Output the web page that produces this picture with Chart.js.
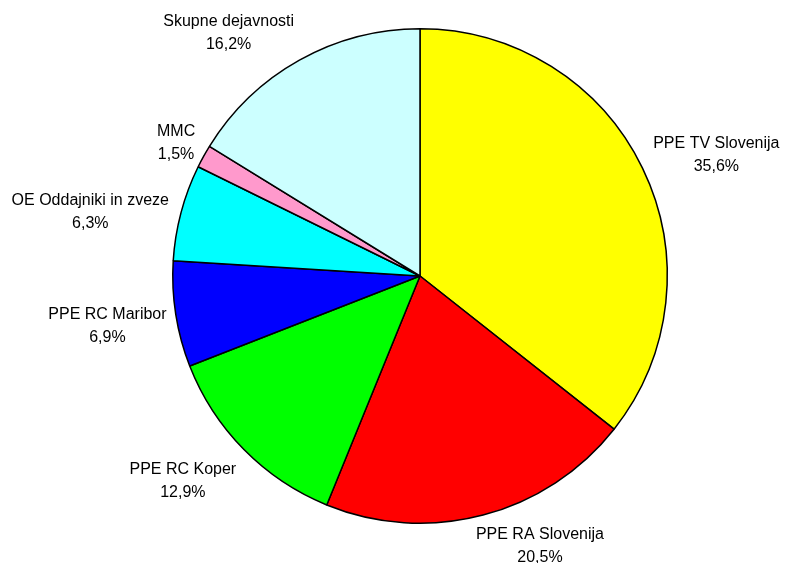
<!DOCTYPE html>
<html>
<head>
<meta charset="utf-8">
<script src="https://cdn.jsdelivr.net/npm/chart.js@4"></script>
<style>
  html, body { margin: 0; padding: 0; background: #fff; }
  #wrap { width: 785px; height: 563px; }
</style>
</head>
<body>
<div id="wrap"><canvas id="chart1" width="785" height="563"></canvas></div>
<script>
var categories = ["PPE TV Slovenija", "PPE RA Slovenija", "PPE RC Koper", "PPE RC Maribor",
                  "OE Oddajniki in zveze", "MMC", "Skupne dejavnosti"]
var shares = [35.6, 20.5, 12.9, 6.9, 6.3, 1.5, 16.2]
var colours = ["#ffff00", "#ff0000", "#00ff00", "#0000ff", "#00ffff", "#ff99cc", "#ccffff"]

// small hand nudges so labels sit where the original put them
var nudge = [[8, 0], [38, 0], [-16, 9], [0, 6], [-5, 7], [-2, 2], [-34, 0]]

var outsideLabels = {
    id: 'outsideLabels',
    afterDatasetsDraw: function (chart) {
        var ctx = chart.ctx
        var meta = chart.getDatasetMeta(0)
        ctx.save()
        ctx.font = '16px "Liberation Sans", Arial, sans-serif'
        ctx.fillStyle = '#000'
        ctx.textAlign = 'center'
        ctx.textBaseline = 'middle'
        meta.data.forEach(function (arc, i) {
            var mid = (arc.startAngle + arc.endAngle) / 2
            var dx = Math.cos(mid), dy = Math.sin(mid)
            var line2 = shares[i].toFixed(1).replace('.', ',') + '%'
            var halfW = Math.max(ctx.measureText(categories[i]).width, ctx.measureText(line2).width) / 2
            var halfH = 22
            var r = arc.outerRadius + 10
            var x = arc.x + dx * r + dx * halfW + nudge[i][0]
            var y = arc.y + dy * r + dy * halfH + nudge[i][1]
            ctx.fillText(categories[i], x, y - 11)
            ctx.fillText(line2, x, y + 12)
        })
        ctx.restore()
    }
}

new Chart(document.getElementById('chart1'), {
    type: 'pie',
    data: {
        labels: categories,
        datasets: [{
            data: shares,
            backgroundColor: colours,
            borderColor: '#000',
            borderWidth: 1.5
        }]
    },
    options: {
        responsive: false,
        animation: false,
        layout: { padding: { left: 172, right: 117, top: 28, bottom: 39 } },
        plugins: {
            legend: { display: false },
            tooltip: { enabled: false }
        }
    },
    plugins: [outsideLabels]
})
</script>
</body>
</html>
